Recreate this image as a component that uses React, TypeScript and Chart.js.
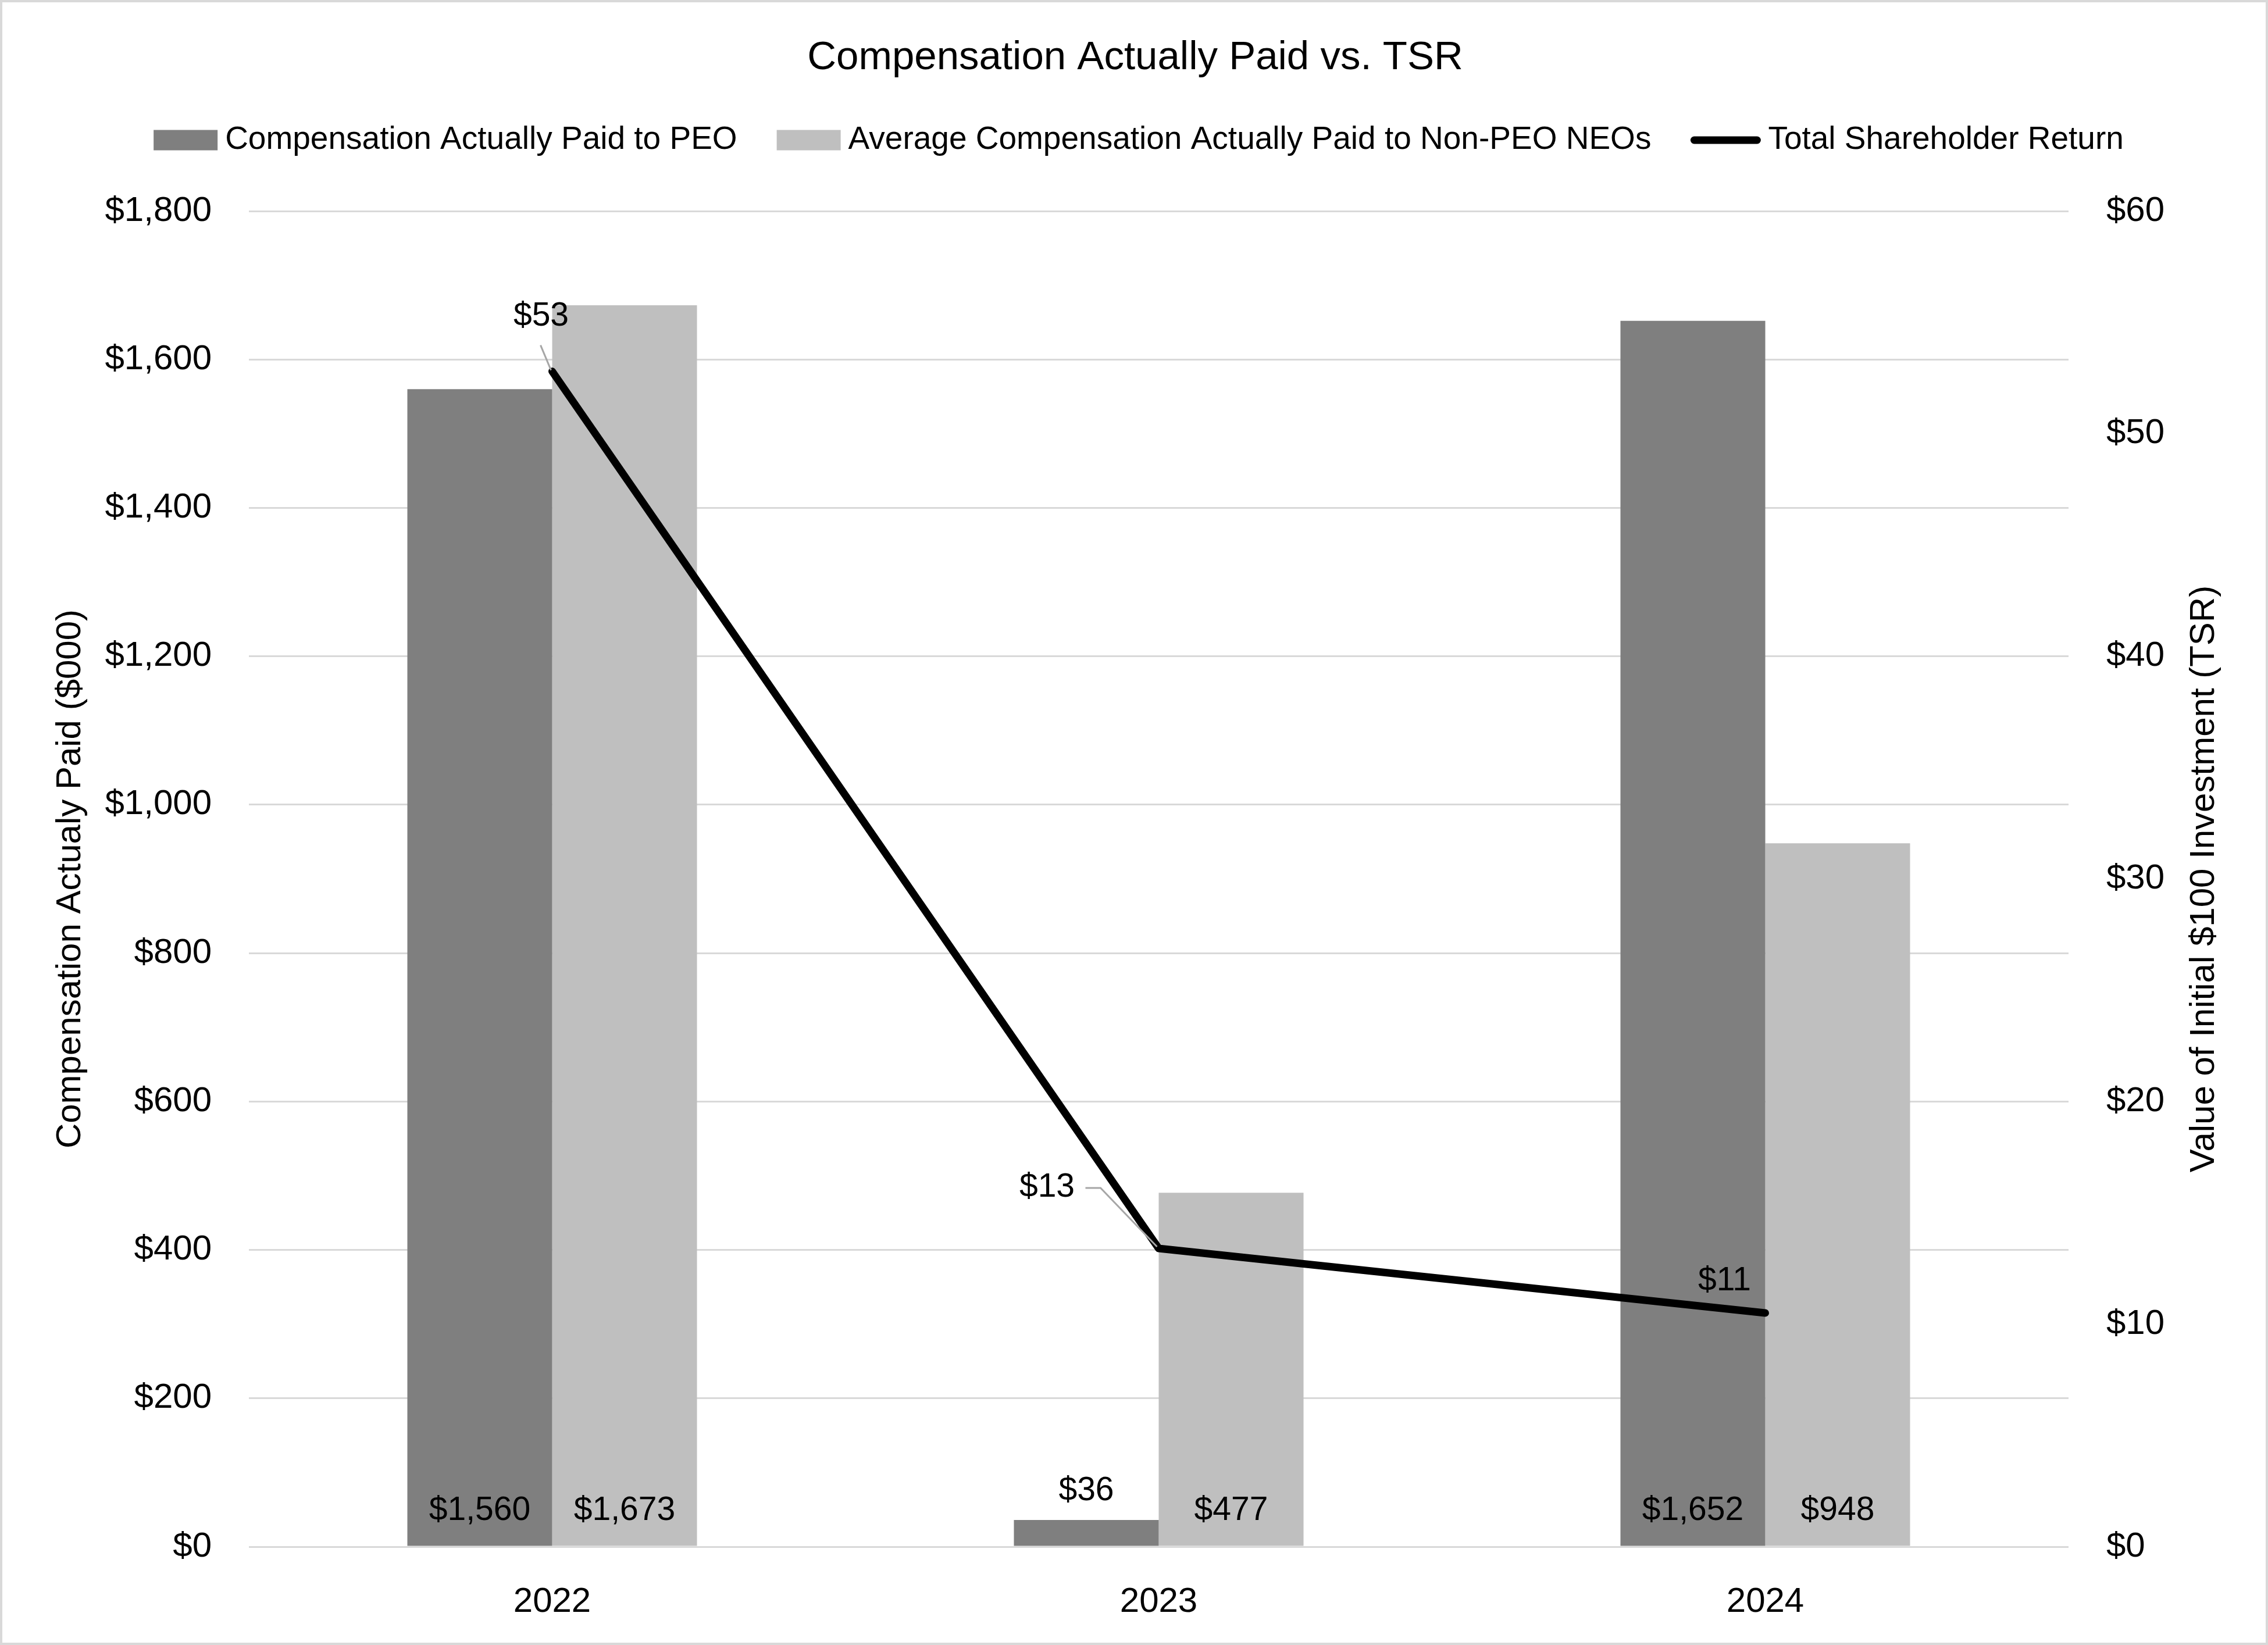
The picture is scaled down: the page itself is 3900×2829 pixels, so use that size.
import React, { useEffect, useRef } from "react";
import { Chart, registerables } from "chart.js";

Chart.register(...registerables);

// ---------- data ----------
const YEARS = ["2022", "2023", "2024"];
const PEO_CAP = [1560, 36, 1652];
const NEO_CAP = [1673, 477, 948];
const TSR = [52.8, 13.4, 10.5];

const SERIES_NAMES = [
  "Compensation Actually Paid to PEO",
  "Average Compensation Actually Paid to Non-PEO NEOs",
  "Total Shareholder Return",
];
const CHART_TITLE = "Compensation Actually Paid vs. TSR";
const LEFT_AXIS_TITLE = "Compensation Actualy Paid ($000)";
const RIGHT_AXIS_TITLE = "Value of Initial $100 Investment (TSR)";

const LEFT_MAX = 1800;
const LEFT_STEP = 200;
const RIGHT_MAX = 60;
const RIGHT_STEP = 10;

// ---------- layout / style ----------
const W = 3900;
const H = 2829;
const PLOT = { left: 428, right: 3557, top: 363, bottom: 2660 };
const FONT = '"Liberation Sans", Arial, sans-serif';
const COLOR_PEO = "#7F7F7F";
const COLOR_NEO = "#BFBFBF";
const COLOR_TSR = "#000000";
const GRID = "#D9D9D9";
const LEADER = "#A6A6A6";

// TSR label placement relative to the point (dx, dy of label centre) + leader polyline
const TSR_LABEL_LAYOUT = [
  { dx: -19, dy: -94, leader: [[-20, -45], [-2, -2]] },
  { dx: -192, dy: -105, leader: [[-126, -104], [-100, -104], [-3, -3]] },
  { dx: -70, dy: -55, leader: null as number[][] | null },
];

const fmtMoney = (v: number) => "$" + Math.round(v).toLocaleString("en-US");

const decorPlugin = {
  id: "decor",
  beforeDraw(chart: any) {
    const ctx = chart.ctx;
    ctx.save();
    ctx.fillStyle = "#ffffff";
    ctx.fillRect(0, 0, W, H);
    ctx.strokeStyle = GRID;
    ctx.lineWidth = 4;
    ctx.strokeRect(2, 2, W - 4, H - 4);
    ctx.restore();
  },
  afterDatasetsDraw(chart: any) {
    const ctx = chart.ctx;
    ctx.save();
    ctx.fillStyle = "#000";
    ctx.textAlign = "center";
    ctx.textBaseline = "middle";
    ctx.font = `57px ${FONT}`;
    // bar labels
    chart.data.datasets.forEach((ds: any, di: number) => {
      if (ds.type === "line") return;
      const meta = chart.getDatasetMeta(di);
      meta.data.forEach((el: any, i: number) => {
        const v = ds.data[i];
        const h = el.base - el.y;
        const y = h >= 130 ? el.base - 60 : el.y - 50;
        ctx.fillText(fmtMoney(v), el.x, y);
      });
    });
    // TSR labels
    chart.data.datasets.forEach((ds: any, di: number) => {
      if (ds.type !== "line") return;
      const meta = chart.getDatasetMeta(di);
      meta.data.forEach((el: any, i: number) => {
        const lay = TSR_LABEL_LAYOUT[i];
        if (lay.leader) {
          ctx.strokeStyle = LEADER;
          ctx.lineWidth = 3;
          ctx.beginPath();
          lay.leader.forEach((p, k) => {
            if (k === 0) ctx.moveTo(el.x + p[0], el.y + p[1]);
            else ctx.lineTo(el.x + p[0], el.y + p[1]);
          });
          ctx.stroke();
        }
        ctx.fillStyle = "#000";
        ctx.fillText(fmtMoney(ds.data[i]), el.x + lay.dx, el.y + lay.dy);
      });
    });
    ctx.restore();
  },
  afterDraw(chart: any) {
    const ctx = chart.ctx;
    ctx.save();
    ctx.fillStyle = "#000";
    // title
    ctx.font = `69px ${FONT}`;
    ctx.textAlign = "center";
    ctx.textBaseline = "middle";
    ctx.fillText(CHART_TITLE, 1952, 100);

    // legend
    ctx.font = `55px ${FONT}`;
    const keys = [
      { kind: "box", color: COLOR_PEO, w: 110 },
      { kind: "box", color: COLOR_NEO, w: 110 },
      { kind: "line", color: COLOR_TSR, w: 120 },
    ];
    const gap = 13;
    const itemGap = 68;
    const widths = SERIES_NAMES.map((s) => ctx.measureText(s).width);
    let total = 0;
    keys.forEach((k, i) => {
      total += k.w + gap + widths[i];
      if (i < keys.length - 1) total += itemGap;
    });
    let x = 1958 - total / 2;
    const ly = 241;
    ctx.textAlign = "left";
    keys.forEach((k, i) => {
      if (k.kind === "box") {
        ctx.fillStyle = k.color;
        ctx.fillRect(x, ly - 17.5, k.w, 35);
      } else {
        ctx.strokeStyle = k.color;
        ctx.lineWidth = 13;
        ctx.lineCap = "round";
        ctx.beginPath();
        ctx.moveTo(x + 6, ly);
        ctx.lineTo(x + k.w - 6, ly);
        ctx.stroke();
      }
      x += k.w + gap;
      ctx.fillStyle = "#000";
      ctx.fillText(SERIES_NAMES[i], x, ly);
      x += widths[i] + itemGap;
    });

    // right axis title (reads bottom to top)
    ctx.save();
    ctx.font = `60px ${FONT}`;
    ctx.textAlign = "center";
    ctx.textBaseline = "middle";
    ctx.translate(3790, (chart.chartArea.top + chart.chartArea.bottom) / 2);
    ctx.rotate(-Math.PI / 2);
    ctx.fillText(RIGHT_AXIS_TITLE, 0, 0);
    ctx.restore();

    ctx.restore();
  },
};

export default function App() {
  const ref = useRef<HTMLCanvasElement | null>(null);

  useEffect(() => {
    document.body.style.margin = "0";
    if (!ref.current) return;
    const chart = new Chart(ref.current, {
      type: "bar",
      data: {
        labels: YEARS,
        datasets: [
          {
            type: "line",
            label: SERIES_NAMES[2],
            data: TSR,
            yAxisID: "y1",
            borderColor: COLOR_TSR,
            backgroundColor: COLOR_TSR,
            borderWidth: 13,
            borderCapStyle: "round",
            borderJoinStyle: "round",
            pointRadius: 0,
            pointHoverRadius: 0,
            tension: 0,
            order: 0,
          } as any,
          {
            type: "bar",
            label: SERIES_NAMES[0],
            data: PEO_CAP,
            yAxisID: "y",
            backgroundColor: COLOR_PEO,
            borderWidth: 0,
            categoryPercentage: 0.4775,
            barPercentage: 1,
            order: 1,
          },
          {
            type: "bar",
            label: SERIES_NAMES[1],
            data: NEO_CAP,
            yAxisID: "y",
            backgroundColor: COLOR_NEO,
            borderWidth: 0,
            categoryPercentage: 0.4775,
            barPercentage: 1,
            order: 1,
          },
        ],
      },
      options: {
        responsive: false,
        animation: false,
        devicePixelRatio: 1,
        layout: { padding: { top: PLOT.top, left: 0, right: 0, bottom: 0 } },
        plugins: {
          legend: { display: false },
          title: { display: false },
          tooltip: { enabled: false },
        },
        scales: {
          x: {
            grid: { display: false, drawTicks: false },
            border: { display: false },
            ticks: { font: { family: FONT, size: 60 }, color: "#000", padding: 59 },
            afterFit: (s: any) => {
              s.height = H - PLOT.bottom;
            },
          },
          y: {
            position: "left",
            min: 0,
            max: LEFT_MAX,
            ticks: {
              stepSize: LEFT_STEP,
              callback: (v: any) => "$" + Number(v).toLocaleString("en-US"),
              font: { family: FONT, size: 60 },
              color: "#000",
              padding: 64,
            },
            grid: { color: GRID, lineWidth: 3, drawTicks: false },
            border: { display: false },
            title: {
              display: true,
              text: LEFT_AXIS_TITLE,
              font: { family: FONT, size: 60 },
              color: "#000",
              padding: { top: 85, bottom: 0 },
            },
            afterFit: (s: any) => {
              s.width = PLOT.left;
            },
          },
          y1: {
            position: "right",
            min: 0,
            max: RIGHT_MAX,
            ticks: {
              stepSize: RIGHT_STEP,
              callback: (v: any) => "$" + v,
              font: { family: FONT, size: 60 },
              color: "#000",
              padding: 65,
            },
            grid: { display: false, drawTicks: false },
            border: { display: false },
            afterFit: (s: any) => {
              s.width = W - PLOT.right;
            },
          },
        },
      } as any,
      plugins: [decorPlugin],
    });
    return () => chart.destroy();
  }, []);

  return (
    <div style={{ width: W, height: H, position: "relative" }}>
      <canvas ref={ref} width={W} height={H} style={{ display: "block", width: W, height: H }} />
    </div>
  );
}
